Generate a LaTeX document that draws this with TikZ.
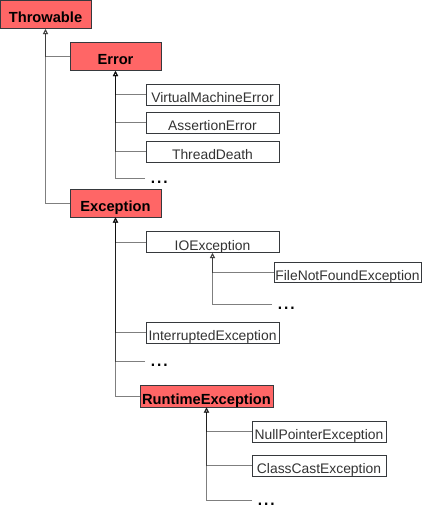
\documentclass[tikz,border=0pt]{standalone}
\usepackage{fontspec}
\setmainfont{Liberation Sans}
\usetikzlibrary{arrows.meta,positioning}
\definecolor{hotred}{HTML}{FF6666}
\definecolor{boxline}{HTML}{36393D}
\definecolor{txtgray}{HTML}{333333}

\begin{document}
\begin{tikzpicture}[x=0.75pt,y=-0.75pt,
  cls/.style={draw=boxline,line width=0.75pt,inner sep=0pt,text height=12.4pt,text depth=0pt},
  hot/.style={cls,fill=hotred,font=\fontsize{11}{13}\selectfont\bfseries,minimum width=68.25pt,minimum height=21pt},
  leaf/.style={cls,fill=white,text=txtgray,font=\fontsize{10.4}{12}\selectfont,minimum width=99.75pt,minimum height=15.75pt},
  more/.style={inner sep=0pt,font=\fontsize{17}{20}\selectfont,right=3.4pt of #1,yshift=-3.4pt},
  inh/.style={draw=black,draw opacity=0.5,line width=0.75pt,-{Triangle[open,length=3.8pt,width=3.8pt]}}]
  \useasboundingbox (0,0) rectangle (428,512);
  \node[hot] (thr) at (45.5,14.5) {Throwable};
  \node[hot] (err) at (115.5,56.5) {Error};
  \node[hot] (exc) at (115.5,203) {Exception};
  \node[leaf] (vme) at (212.5,94.5) {VirtualMachineError};
  \node[leaf] (ase) at (212.5,122.5) {AssertionError};
  \node[leaf] (thd) at (212.5,151.5) {ThreadDeath};
  \coordinate (errEnd) at (145,178);
  \node[more=errEnd] (errMore) {...};
  \node[leaf] (ioe) at (212.5,242) {IOException};
  \node[leaf,minimum width=110.25pt,minimum height=15pt] (fnf) at (347.5,272) {FileNotFoundException};
  \coordinate (ioeEnd) at (272,304);
  \node[more=ioeEnd] (ioeMore) {...};
  \node[leaf] (ine) at (212.5,332.5) {InterruptedException};
  \coordinate (excEnd) at (145,361);
  \node[more=excEnd] (excMore) {...};
  \node[hot,minimum width=99.75pt,minimum height=16.5pt] (rte) at (206.5,396) {RuntimeException};
  \node[leaf,minimum width=100.5pt] (npe) at (319,431.5) {NullPointerException};
  \node[leaf,minimum width=100.5pt] (cce) at (319,465.5) {ClassCastException};
  \coordinate (rteEnd) at (252,500);
  \node[more=rteEnd] (rteMore) {...};

  \draw[inh] (err.west) -| (thr.south);
  \draw[inh] (exc.west) -| (thr.south);
  \foreach \c in {vme,ase,thd,errEnd}
    \draw[inh] (\c.west) -| (err.south);
  \foreach \c in {ioe,ine,excEnd,rte}
    \draw[inh] (\c.west) -| (exc.south);
  \foreach \c in {fnf,ioeEnd}
    \draw[inh] (\c.west) -| (ioe.south);
  \foreach \c in {npe,cce,rteEnd}
    \draw[inh] (\c.west) -| (rte.south);
\end{tikzpicture}
\end{document}
